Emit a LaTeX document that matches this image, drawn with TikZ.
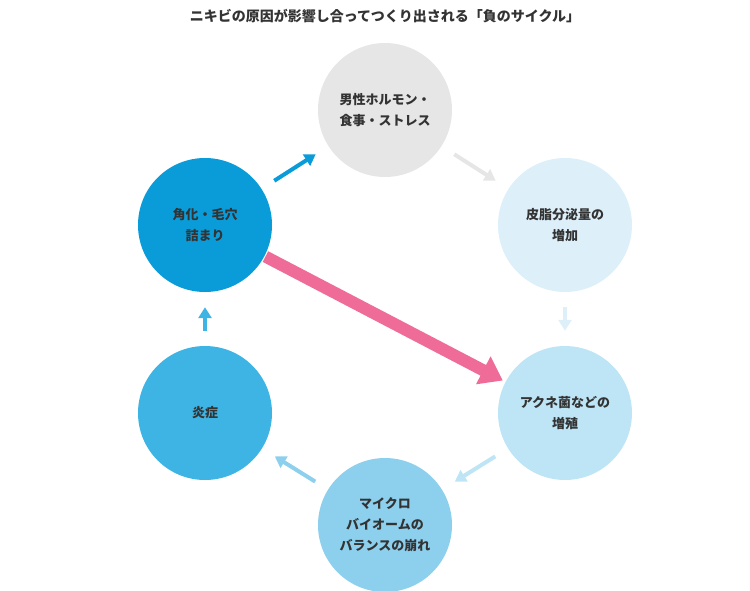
\documentclass[tikz,border=0pt]{standalone}
\usepackage{fontspec}
\setmainfont{Noto Sans CJK JP}
\usetikzlibrary{arrows.meta}
\definecolor{txt}{HTML}{333333}
\definecolor{cA}{HTML}{E6E6E6}
\definecolor{cB}{HTML}{DDF0FA}
\definecolor{cC}{HTML}{BEE5F5}
\definecolor{cD}{HTML}{8DD0EE}
\definecolor{cE}{HTML}{3EB4E4}
\definecolor{cF}{HTML}{0A9CD9}
\definecolor{pink}{HTML}{EE6C97}
\begin{document}
\begin{tikzpicture}[x=1pt,y=-1pt,
  main/.style = {circle, minimum size=134pt, inner sep=0pt, align=center,
    text=txt, font=\fontsize{13}{21}\selectfont\bfseries},
  cyc/.style = {line width=4pt, -{Triangle[length=11pt,width=13pt]}, shorten <=15pt, shorten >=15pt}]
  \useasboundingbox (0,0) rectangle (750,590);
  \node[font=\fontsize{14}{16}\selectfont\bfseries, text=txt] (title) at (385,16) {ニキビの原因が影響し合ってつくり出される「負のサイクル」};
  \node[main, fill=cA] (1) at (385,110) {男性ホルモン・\\食事・ストレス};
  \node[main, fill=cB] (2) at (565,225) {皮脂分泌量の\\増加};
  \node[main, fill=cC] (3) at (565,413) {アクネ菌などの\\増殖};
  \node[main, fill=cD] (4) at (385,525) {マイクロ\\バイオームの\\バランスの崩れ};
  \node[main, fill=cE] (5) at (205,413) {炎症};
  \node[main, fill=cF] (6) at (205,225) {角化・毛穴\\詰まり};
  \draw[cyc, cF] (6) -- (1);
  \draw[cyc, cA] (1) -- (2);
  \draw[cyc, cB] (2) -- (3);
  \draw[cyc, cC] (3) -- (4);
  \draw[cyc, cD] (4) -- (5);
  \draw[cyc, cE] (5) -- (6);
  \draw[pink, line width=12pt, -{Triangle[length=22pt,width=30pt]}, shorten <=1pt, shorten >=3pt] (6) -- (3);
\end{tikzpicture}
\end{document}
